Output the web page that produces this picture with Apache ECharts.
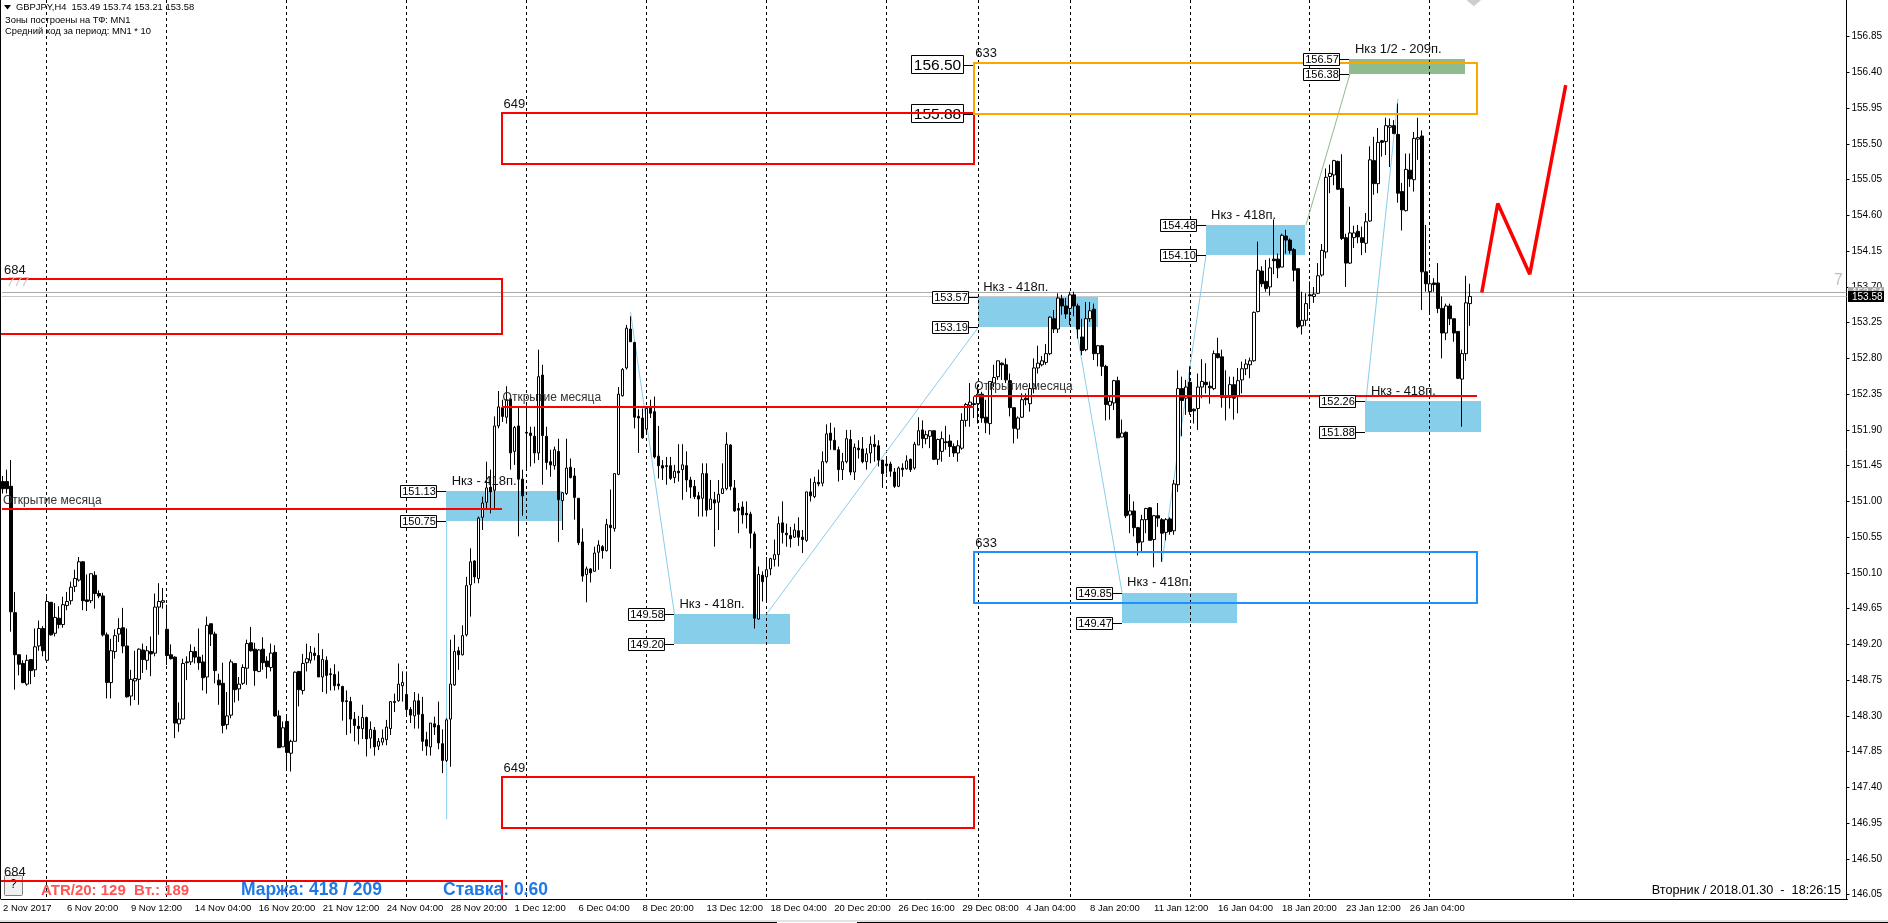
<!DOCTYPE html>
<html>
<head>
<meta charset="utf-8">
<title>GBPJPY,H4</title>
<script src="https://cdn.jsdelivr.net/npm/echarts@6/dist/echarts.min.js"></script>
<style>
html,body{margin:0;padding:0;background:#fff;overflow:hidden;}
#chart{width:1888px;height:923px;}
</style>
</head>
<body>
<div id="chart"></div>
<script>
// candles: [open, close, low, high]
var novCandles = [
[151.25,151.16,151.10,151.32],[151.25,151.16,151.10,151.40],[151.19,149.61,149.36,151.52],[149.60,149.07,148.63,149.86],
[149.07,148.95,148.81,149.07],[148.96,148.72,148.71,149.00],[148.70,149.00,148.68,149.07],[149.01,148.87,148.70,149.01],
[148.88,149.17,148.79,149.40],[149.18,149.40,149.12,149.50],[149.40,149.12,149.05,149.43],[149.00,149.74,148.97,149.83],
[149.73,149.32,149.31,149.73],[149.34,149.54,149.30,149.72],[149.53,149.45,149.40,149.68],[149.45,149.70,149.41,149.80],
[149.69,149.74,149.63,149.86],[149.75,149.92,149.70,149.99],[149.93,150.03,149.86,150.14],[150.01,150.24,149.99,150.30],
[150.24,149.75,149.63,150.25],[149.76,149.74,149.62,150.08],[149.75,150.09,149.72,150.09],[150.07,149.84,149.65,150.12],
[149.84,149.81,149.78,149.88],[149.81,149.32,149.30,149.85],[149.32,148.72,148.52,149.35],[148.72,149.12,148.52,149.27],
[149.11,149.31,149.02,149.39],[149.33,149.40,149.23,149.53],[149.41,149.18,149.09,149.66],[149.18,148.54,148.53,149.40],
[148.55,148.76,148.43,148.88],[148.74,148.77,148.50,149.12],[148.76,149.14,148.44,149.15],[149.13,149.01,148.84,149.21],
[149.00,149.12,148.88,149.18],[149.11,149.08,148.80,149.30],[149.09,149.67,149.05,149.84],[149.67,149.74,149.32,149.97],
[149.73,149.75,149.65,149.91],[149.39,149.06,148.94,149.70],[149.07,149.02,149.01,149.20],[149.04,148.21,148.02,149.05],
[148.20,148.26,148.10,148.47],[148.26,148.96,148.26,149.02],[148.97,148.98,148.75,149.05],[148.98,149.11,148.94,149.20],
[149.11,149.04,148.96,149.17],[149.04,148.97,148.88,149.40],[148.98,148.78,148.62,149.07],[148.79,149.44,148.58,149.55],
[149.46,149.33,149.18,149.46],[149.33,148.87,148.71,149.36],[148.75,148.69,148.44,148.83],[148.71,148.18,148.08,148.97],
[148.19,148.30,148.13,148.60],[148.31,148.98,148.27,149.01],[148.96,148.63,148.47,148.96],[148.64,148.70,148.49,148.79],
[148.71,148.91,148.69,148.95],[148.90,149.21,148.69,149.26],[149.22,149.12,149.11,149.42],[149.14,148.87,148.68,149.22],
[148.86,149.13,148.85,149.14],[149.14,148.97,148.88,149.29],[148.99,148.92,148.77,149.05],[148.91,149.09,148.86,149.21],
[149.10,148.30,148.29,149.19],[148.30,147.90,147.90,148.37],[147.91,148.15,147.91,148.23],[148.23,147.84,147.63,148.30],
[147.83,147.98,147.60,148.00],[147.98,148.85,147.98,148.86],[148.86,148.63,148.42,148.86],[148.62,148.96,148.57,149.08],
[148.97,149.02,148.86,149.21],[149.00,149.10,148.96,149.18],[149.09,149.06,149.00,149.16],[149.06,148.79,148.79,149.34],
[148.79,149.01,148.60,149.14],[149.00,148.81,148.58,149.05],[148.83,148.82,148.62,148.90],[148.82,148.68,148.62,148.95],
[148.70,148.68,148.63,148.86],[148.67,148.48,148.24,148.68],[148.49,148.48,148.06,148.62],[148.48,148.26,148.08,148.54],
[148.26,148.18,147.98,148.35],[148.17,148.14,147.94,148.30],[148.14,148.28,148.01,148.44],[148.28,148.01,147.79,148.29],
[148.02,148.13,147.89,148.23],[148.12,147.91,147.80,148.16],[147.92,147.98,147.87,148.02],[147.97,148.02,147.93,148.13],
[148.00,148.16,147.93,148.25],[148.14,148.48,148.06,148.48],[148.48,148.47,148.35,148.58],[148.49,148.70,148.48,148.96],
[148.68,148.72,148.48,148.86],[148.57,148.38,148.30,148.86],[148.38,148.31,148.21,148.41],[148.30,148.49,148.14,148.60],
[148.49,148.32,148.14,148.58],[148.32,147.98,147.86,148.54],[148.00,147.92,147.80,148.10],[147.91,148.21,147.80,148.21],
[148.20,148.16,148.06,148.29],[148.18,147.96,147.88,148.48],[147.95,147.74,147.58,148.13],[147.74,148.25,147.72,148.27],
[148.26,148.70,147.66,149.26],[148.69,149.11,148.68,149.32],[149.12,149.07,148.88,149.17],[149.07,149.31,149.06,149.44],
[149.32,149.94,149.30,150.05],[149.95,150.24,149.55,150.41],[150.25,150.05,149.97,150.26],[150.03,150.79,149.97,150.81],
[150.80,150.98,150.64,151.06],[150.99,151.17,150.89,151.50],[151.18,151.12,150.85,151.40],[151.14,151.95,150.91,152.07],
[151.95,152.19,151.92,152.39]
];
var decCandles = [
[152.18,152.07,152.00,152.28],[152.06,152.28,151.98,152.45],[152.29,151.61,151.40,152.30],[151.63,151.93,151.46,151.95],
[151.95,151.28,150.56,152.19],[151.28,151.07,150.82,151.40],[151.87,151.86,151.40,152.21],[151.86,151.83,151.44,151.94],
[151.82,151.61,151.48,151.94],[151.61,152.57,151.52,152.91],[152.59,151.83,151.21,152.72],[151.82,151.49,151.40,151.94],
[151.50,151.46,151.31,151.65],[151.45,151.65,151.40,151.69],[151.63,151.02,150.49,151.79],[151.01,151.11,150.64,151.12],
[151.10,151.42,151.08,151.79],[151.43,151.30,151.29,151.54],[151.32,151.05,150.77,151.42],[151.04,150.48,150.45,151.04],
[150.49,150.06,149.99,150.66],[150.08,150.15,149.73,150.18],[150.15,150.10,149.98,150.16],[150.12,150.35,150.12,150.43],
[150.36,150.45,150.14,150.51],[150.43,150.38,150.28,150.45],[150.38,150.71,150.37,150.78],[150.70,150.67,150.15,151.15],
[150.66,151.35,150.62,151.35],[151.34,152.35,151.33,152.44],[152.33,152.66,152.32,152.68],[152.68,153.18,152.66,153.22],
[153.17,153.01,153.01,153.33],[153.00,152.06,151.92,153.01],[152.07,152.05,151.61,152.16],[152.05,151.80,151.79,152.17],
[151.91,152.17,151.86,152.19],[152.18,152.11,152.05,152.28],[152.13,151.56,151.54,152.32],[151.57,151.45,151.29,151.95],
[151.45,151.42,151.27,151.52],[151.45,151.44,151.21,151.56],[151.45,151.29,151.27,151.56],[151.30,151.38,151.23,151.46],
[151.38,151.36,151.25,151.72],[151.40,151.46,151.02,151.72],[151.45,151.27,151.12,151.63],[151.27,151.18,151.04,151.31],
[151.19,151.06,151.03,151.27],[151.07,151.03,150.81,151.12],[151.04,151.35,150.81,151.48],[151.35,150.89,150.81,151.48],
[150.90,151.03,150.89,151.27],[151.02,150.98,150.43,151.12],[150.99,151.09,150.64,151.27],[151.10,151.16,151.10,151.48],
[151.16,151.72,151.14,151.87],[151.71,151.19,151.14,151.72],[151.17,150.88,150.87,151.27],[150.91,150.89,150.60,150.98],
[150.93,150.83,150.72,151.00],[150.85,150.83,150.66,151.00],[150.84,150.60,150.41,150.87],[150.59,149.53,149.40,150.62],
[149.52,150.08,149.51,150.18],[150.07,149.99,149.74,150.12],[150.05,150.14,149.74,150.30],[150.15,150.28,150.07,150.29],
[150.27,150.33,150.18,150.52],[150.33,150.72,150.18,150.81],[150.73,150.61,150.47,151.00],[150.60,150.58,150.43,150.72],
[150.57,150.53,150.42,150.68],[150.55,150.64,150.54,150.72],[150.63,150.55,150.44,150.80],[150.55,150.52,150.35,150.64],
[150.51,151.12,150.49,151.12],[151.12,151.07,151.00,151.29],[151.06,151.24,151.04,151.31],[151.24,151.22,151.19,151.40],
[151.23,151.50,151.19,151.63],[151.50,151.85,151.48,151.97],[151.86,151.77,151.65,151.99],[151.77,151.65,151.65,151.93],
[151.65,151.40,151.25,151.69],[151.40,151.50,151.27,151.61],[151.50,151.79,151.48,151.90],[151.78,151.37,151.33,151.90],
[151.37,151.68,151.27,151.73],[151.67,151.65,151.54,151.77],[151.66,151.50,151.48,151.81],[151.50,151.60,151.40,151.67],
[151.61,151.72,151.48,151.82],[151.72,151.69,151.50,151.84],[151.70,151.52,151.44,151.77],[151.52,151.35,151.17,151.52],
[151.47,151.45,151.35,151.54],[151.47,151.38,151.31,151.50],[151.37,151.19,151.17,151.42],[151.19,151.42,151.18,151.44],
[151.42,151.40,151.31,151.48],[151.41,151.51,151.40,151.58],[151.53,151.40,151.37,151.54],[151.42,151.72,151.40,151.75],
[151.71,151.89,151.71,152.06],[151.90,151.79,151.67,152.02],[151.79,151.84,151.72,151.89],[151.82,151.89,151.67,151.89],
[151.89,151.53,151.52,151.89],[151.53,151.78,151.46,151.79],[151.63,151.79,151.50,151.88],[151.75,151.74,151.65,151.95],
[151.76,151.69,151.56,151.84],[151.69,151.61,151.56,151.73],[151.61,151.70,151.50,151.77],[151.67,152.02,151.65,152.11],
[152.02,152.22,151.94,152.24],[152.21,152.25,151.94,152.49]
];
var janCandles = [
[152.23,152.22,152.05,152.32],[152.23,152.35,151.98,152.47],[152.35,152.05,151.99,152.38],[152.06,151.99,151.86,152.28],
[151.98,152.51,151.84,152.51],[152.49,152.56,152.44,152.72],[152.57,152.77,152.53,152.77],[152.74,152.72,152.53,152.75],
[152.72,152.53,152.49,152.80],[152.52,152.18,152.07,152.61],[152.18,151.92,151.73,152.18],[151.91,152.05,151.79,152.07],
[152.06,152.28,152.05,152.36],[152.30,152.28,152.21,152.36],[152.23,152.42,152.13,152.49],[152.42,152.68,152.36,152.80],
[152.68,152.74,152.61,152.96],[152.72,152.77,152.70,152.83],[152.75,152.86,152.72,152.98],[152.86,153.32,152.84,153.33],
[153.30,153.17,153.12,153.41],[153.17,153.56,153.12,153.62],[153.55,153.46,153.35,153.60],[153.46,153.36,153.30,153.56],
[153.43,153.60,153.22,153.64],[153.60,153.46,153.33,153.64],[153.46,153.17,153.05,153.49],[153.07,152.90,152.84,153.30],
[152.91,153.30,152.89,153.51],[153.30,153.40,153.26,153.51],[153.42,152.86,152.78,153.49],[152.86,152.96,152.70,152.97],
[152.96,152.70,152.58,152.97],[152.70,152.22,152.02,152.72],[152.21,152.26,152.03,152.34],[152.24,152.52,152.15,152.53],
[152.52,151.80,151.80,152.57],[151.81,151.86,151.81,152.03],[151.87,150.82,150.79,151.88],[150.83,150.88,150.60,151.09],
[150.88,150.67,150.56,151.00],[150.67,150.48,150.32,150.68],[150.49,150.77,150.37,150.83],[150.77,150.91,150.60,150.92],
[150.92,150.51,150.51,150.93],[150.52,150.82,150.17,150.83],[150.82,150.79,150.68,150.98],[150.77,150.60,150.24,150.79],
[150.61,150.77,150.51,150.79],[150.78,150.62,150.58,150.80],[150.63,151.22,150.58,151.27],[151.21,152.42,151.12,152.65],
[152.42,152.27,151.82,152.57],[152.30,152.44,152.09,152.53],[152.50,152.13,152.09,152.70],[152.16,152.14,151.98,152.17],
[152.17,152.44,151.90,152.61],[152.44,152.51,152.30,152.79],[152.50,152.47,152.36,152.74],[152.45,152.43,152.23,152.51],
[152.42,152.86,152.40,152.90],[152.86,152.81,152.80,153.06],[152.82,152.31,152.18,152.91],[152.32,152.31,152.02,152.65],
[152.31,152.47,152.17,152.57],[152.47,152.30,152.03,152.57],[152.32,152.52,152.11,152.68],[152.53,152.67,152.36,152.76],
[152.67,152.73,152.59,152.79],[152.72,152.77,152.55,152.81],[152.77,153.38,152.76,153.39],[153.39,153.91,153.38,154.27],
[153.90,153.74,153.70,153.96],[153.77,153.68,153.64,154.04],[153.70,153.94,153.59,154.06],[154.05,154.03,153.86,154.55],
[154.05,153.94,153.81,154.12],[153.95,154.35,153.95,154.37],[154.34,154.29,154.12,154.42],[154.29,154.16,154.12,154.31],
[154.17,153.91,153.77,154.19],[153.93,153.20,153.18,153.93],[153.21,153.28,153.10,153.64],[153.28,153.49,153.21,153.62],
[153.60,153.59,153.45,153.77],[153.58,153.61,153.50,153.70],[153.62,153.84,153.61,154.00],[153.85,154.16,153.83,154.24],
[154.14,155.08,154.06,155.19],[155.09,155.13,154.88,155.24],[155.11,155.29,154.98,155.30],[155.28,154.93,154.92,155.29],
[154.94,154.31,154.29,155.37],[154.32,154.00,153.70,154.37],[154.00,154.38,153.99,154.71],[154.32,154.38,154.19,154.47],
[154.40,154.33,154.25,154.48],[154.32,154.26,154.10,154.46],[154.25,154.52,154.13,154.63],[154.53,155.30,154.52,155.47],
[155.29,155.00,154.86,155.59],[155.00,155.52,154.88,155.70],[155.54,155.52,155.34,155.55],[155.53,155.73,155.36,155.83],
[155.71,155.73,155.21,155.82],[155.73,155.63,155.63,155.80],[155.62,154.88,154.76,156.01],[154.90,154.67,154.41,155.01],
[154.66,155.18,154.65,155.38],[155.17,155.06,154.96,155.38],[155.05,155.57,154.90,155.65],[155.56,155.58,155.30,155.83],
[155.60,153.89,153.41,155.67],[153.89,153.74,153.64,154.48],[153.64,153.74,153.37,153.85],[153.75,153.73,153.64,153.81],
[153.75,153.43,153.37,154.00],[153.43,153.12,152.80,153.58],[153.12,153.46,153.03,153.49],[153.46,153.30,153.22,153.49],
[153.30,153.12,153.01,153.30],[153.14,152.55,152.54,153.14],[152.54,152.86,151.94,152.91],[152.86,153.50,152.77,153.84],
[153.49,153.58,153.21,153.74]
];
var tickLabels = ['2 Nov 2017','6 Nov 20:00','9 Nov 12:00','14 Nov 04:00','16 Nov 20:00','21 Nov 12:00','24 Nov 04:00','28 Nov 20:00',
	'1 Dec 12:00','6 Dec 04:00','8 Dec 20:00','13 Dec 12:00','18 Dec 04:00','20 Dec 20:00','26 Dec 16:00','29 Dec 08:00',
	'4 Jan 04:00','8 Jan 20:00','11 Jan 12:00','16 Jan 04:00','18 Jan 20:00','23 Jan 12:00','26 Jan 04:00'];
var priceTicks = [156.85,156.40,155.95,155.50,155.05,154.60,154.15,153.70,153.25,152.80,152.35,151.90,151.45,
	151.00,150.55,150.10,149.65,149.20,148.75,148.30,147.85,147.40,146.95,146.50,146.05];
// vertical period separators, as bar numbers
var separators = [11,41,71,101,131,161,191,221,244,267,297,327,357,393];
// from, to, top, bottom, caption
var redFrames = [[-1,125,153.80,153.11,'684'],[125,243,155.89,155.25,'649'],[125,243,147.53,146.89,'649'],[-1,125,146.22,145.53,'684']];
var orangeFrames = [[243,369,156.52,155.88,'633']];
var blueFrames = [[243,369,150.36,149.72,'633']];
var orangeLevels = [156.50,155.88];
// from, to, top, bottom, caption
var blueZones = [
	[111,140,151.13,150.75,'Нкз - 418п.'],
	[168,197,149.58,149.20,'Нкз - 418п.'],
	[244,274,153.57,153.19,'Нкз - 418п.'],
	[280,309,149.85,149.47,'Нкз - 418п.'],
	[301,326,154.48,154.10,'Нкз - 418п.'],
	[341,370,152.26,151.88,'Нкз - 418п.']
];
var greenZones = [[337,366,156.57,156.38,'Нкз 1/2 - 209п.']];
// month open: from, to, price
var monthOpens = [[0,125,150.90],[125,243,152.19],[243,369,152.33]];
// bar, price, bar, price
var blueLinks = [[111,150.75,111,147.00],[157,153.38,168,149.58],[191,149.58,244,153.19],[267,153.62,280,149.85],[290,150.24,301,154.10],[349,156.07,341,152.26]];
var greenLinks = [[326,154.48,337,156.38]];
var forecastPath = [[370,153.63],[374,154.75],[382,153.86],[391,156.24]];
var askPrice = 153.64;
var bidPrice = 153.58;
var topMarker = [[368,157.31]];

var FONT = '"Liberation Sans", Arial, sans-serif';
var barCount = 462;
var categories = [];
for (var i = 0; i < barCount; i++) {
	categories.push(i % 16 == 0 && tickLabels[i / 16] ? tickLabels[i / 16] : '');
}
var candles = novCandles.concat(decCandles, janCandles);

function isLabelled(index) {
	return index % 16 == 0 && index <= 352;
}

// one custom series per overlay type, rows are read through api.coord
function layer(rows, z, draw) {
	return {
		type: 'custom',
		z: z,
		silent: true,
		clip: true,
		animation: false,
		data: rows.map(function (r, i) { return [i, 150]; }),
		renderItem: function (params, api) {
			return draw(rows[params.dataIndex], api, params.coordSys);
		}
	};
}

function textEl(x, y, text, size, color, align, bold) {
	return {
		type: 'text',
		style: {
			x: x, y: y, text: text, fill: color || '#000',
			font: (bold ? 'bold ' : '') + size + 'px ' + FONT,
			align: align || 'left', verticalAlign: 'middle'
		}
	};
}

function zoneRect(color) {
	return function (r, api) {
		var a = api.coord([r[0], r[2]]), b = api.coord([r[1], r[3]]);
		var x = Math.floor(a[0]), y = Math.round(a[1]);
		return {type: 'rect', shape: {x: x, y: y, width: Math.floor(b[0]) - x, height: Math.round(b[1]) - y}, style: {fill: color}};
	};
}

function frameRect(color) {
	return function (r, api) {
		var a = api.coord([r[0], r[2]]), b = api.coord([r[1], r[3]]);
		var x = Math.floor(a[0]), y = Math.round(a[1]);
		return {type: 'rect', shape: {x: x, y: y, width: Math.floor(b[0]) - x, height: Math.round(b[1]) - y},
			style: {fill: 'none', stroke: color, lineWidth: 2}};
	};
}

function frameCaption(r, api) {
	var a = api.coord([r[0] < 0 ? 0 : r[0], r[2]]);
	return textEl(a[0] + 1, a[1] - 9, r[4], 13, '#111');
}

function priceBox(x, y, text) {
	var bx = Math.floor(x) - 46, by = Math.round(y) - 6;
	return [
		{type: 'line', shape: {x1: bx + 37, y1: by + 6.5, x2: bx + 46, y2: by + 6.5}, style: {stroke: '#000', lineWidth: 1}},
		{type: 'rect', shape: {x: bx + 0.5, y: by + 0.5, width: 36, height: 12}, style: {fill: '#fff', stroke: '#000', lineWidth: 1}},
		textEl(bx + 19, by + 7, text, 11, '#000', 'center')
	];
}

function zoneLabels(r, api) {
	var a = api.coord([r[0], r[2]]), b = api.coord([r[0], r[3]]);
	var kids = [textEl(a[0] + 5, a[1] - 10, r[4], 13, '#111')];
	kids = kids.concat(priceBox(a[0], a[1], r[2].toFixed(2)), priceBox(b[0], b[1], r[3].toFixed(2)));
	return {type: 'group', children: kids};
}

function segment(color, width, dash) {
	return function (r, api) {
		var a = api.coord([r[0], r[1]]), b = api.coord([r[2], r[3]]);
		return {type: 'line', shape: {x1: a[0], y1: a[1], x2: b[0], y2: b[1]},
			style: {stroke: color, lineWidth: width, lineDash: dash || null}};
	};
}

function priceLine(color) {
	return function (p, api, sys) {
		var y = Math.round(api.coord([0, p])[1]) + 0.5;
		return {type: 'line', shape: {x1: sys.x + 1, y1: y, x2: sys.x + sys.width - 1, y2: y}, style: {stroke: color, lineWidth: 1}};
	};
}

function separator(bar, api, sys) {
	var x = Math.round(api.coord([bar, 150])[0] - 0.5) + 0.5;
	return {type: 'line', shape: {x1: x, y1: sys.y, x2: x, y2: sys.y + sys.height},
		style: {stroke: '#000', lineWidth: 1, lineDash: [3, 3]}};
}

function monthLine(r, api) {
	var a = api.coord([r[0], r[2]]), b = api.coord([r[1], r[2]]);
	var y = Math.round(a[1]);
	return {type: 'line', shape: {x1: Math.floor(a[0]), y1: y, x2: Math.floor(b[0]), y2: y}, style: {stroke: '#FF0000', lineWidth: 2}};
}

function monthCaption(r, api) {
	var a = api.coord([r[0], r[2]]);
	return textEl(a[0], a[1] - 9, 'Открытие месяца', 12, '#333');
}

function priceTag(fill, color) {
	return function (p, api, sys) {
		var y = Math.round(api.coord([0, p])[1]);
		return {type: 'group', children: [
			{type: 'rect', shape: {x: 1848, y: y - 5, width: 36, height: 11}, style: {fill: fill}},
			textEl(1852, y + 1, p.toFixed(2), 10, color)
		]};
	};
}

function levelBox(p, api) {
	var a = api.coord([243, p]);
	var y = Math.round(a[1]);
	return {type: 'group', children: [
		{type: 'line', shape: {x1: 963, y1: y + 0.5, x2: Math.floor(a[0]), y2: y + 0.5}, style: {stroke: '#000', lineWidth: 1}},
		{type: 'rect', shape: {x: 911.5, y: y - 9.5, width: 52, height: 18}, style: {fill: '#fff', stroke: '#000', lineWidth: 1}},
		textEl(937.5, y + 0.5, p.toFixed(2), 15.5, '#000', 'center')
	]};
}

var overlayCaptions = redFrames.concat(orangeFrames, blueFrames);
var tagLayerAsk = layer([askPrice], 20, priceTag('#A9A9A9', '#fff'));
var tagLayerBid = layer([bidPrice], 21, priceTag('#000', '#fff'));
tagLayerAsk.clip = false;
tagLayerBid.clip = false;

var option = {
	backgroundColor: '#fff',
	animation: false,
	textStyle: {fontFamily: FONT},
	grid: {left: -0.5, top: 0, width: 1848, height: 899, containLabel: false},
	xAxis: {
		type: 'category',
		data: categories,
		boundaryGap: true,
		axisLine: {onZero: false, lineStyle: {color: '#000', width: 1}},
		axisTick: {length: 3, alignWithLabel: true, interval: isLabelled, lineStyle: {color: '#000'}},
		axisLabel: {interval: isLabelled, align: 'left', margin: 4, color: '#000', fontSize: 9.5, fontFamily: FONT, hideOverlap: false},
		splitLine: {show: false}
	},
	yAxis: {
		type: 'value',
		position: 'right',
		offset: -1,
		min: 145.995,
		max: 157.312,
		axisLine: {show: true, onZero: false, lineStyle: {color: '#000', width: 1}},
		axisTick: {show: true, length: 3, customValues: priceTicks, lineStyle: {color: '#000'}},
		axisLabel: {
			margin: 5, color: '#000', fontSize: 10, fontFamily: FONT, customValues: priceTicks,
			formatter: function (v) { return v.toFixed(2); }
		},
		splitLine: {show: false}
	},
	series: [
		layer(blueZones, 1, zoneRect('#87CEEB')),
		layer(greenZones, 1, zoneRect('#8FBC8F')),
		layer([askPrice], 2, priceLine('#A9A9A9')),
		layer([bidPrice], 2, priceLine('#C8C8C8')),
		layer(separators, 2, separator),
		layer(blueLinks, 2, segment('#87CEEB', 1)),
		layer(greenLinks, 2, segment('#8FBC8F', 1)),
		layer(orangeLevels, 3, levelBox),
		{
			type: 'candlestick',
			z: 3,
			silent: true,
			animation: false,
			barWidth: 3,
			data: candles,
			itemStyle: {color: '#fff', color0: '#000', borderColor: '#000', borderColor0: '#000', borderWidth: 1}
		},
		layer(redFrames, 4, frameRect('#FF0000')),
		layer(orangeFrames, 4, frameRect('#FFA500')),
		layer(blueFrames, 4, frameRect('#1E90FF')),
		layer(monthOpens, 4, monthLine),
		{
			type: 'line',
			z: 4,
			silent: true,
			animation: false,
			showSymbol: false,
			data: forecastPath,
			lineStyle: {color: '#FF0000', width: 3.5}
		},
		{
			type: 'scatter',
			z: 4,
			silent: true,
			symbol: 'diamond',
			symbolSize: [14, 12],
			itemStyle: {color: '#C0C0C0'},
			data: topMarker
		},
		layer(overlayCaptions, 5, frameCaption),
		layer(monthOpens, 5, monthCaption),
		layer(blueZones, 5, zoneLabels),
		layer(greenZones, 5, zoneLabels),
		tagLayerAsk,
		tagLayerBid
	],
	graphic: [
		{type: 'rect', left: 0, top: 0, shape: {width: 1, height: 899}, style: {fill: '#000'}, z: 6},
		{type: 'rect', left: 0, top: 920, shape: {width: 1888, height: 2}, style: {fill: '#E4E4E4'}, z: 6},
		{type: 'rect', left: 0, top: 922, shape: {width: 777, height: 1}, style: {fill: '#000'}, z: 6},
		{type: 'rect', left: 857, top: 922, shape: {width: 1031, height: 1}, style: {fill: '#000'}, z: 6},
		{type: 'polygon', shape: {points: [[4, 5], [11, 5], [7.5, 9.5]]}, style: {fill: '#000'}, z: 6},
		{type: 'text', left: 16, top: 3, style: {text: 'GBPJPY,H4  153.49 153.74 153.21 153.58', font: '9.4px ' + FONT, fill: '#000'}, z: 6},
		{type: 'text', left: 5, top: 16, style: {text: 'Зоны построены на ТФ: MN1', font: '9.4px ' + FONT, fill: '#000'}, z: 6},
		{type: 'text', left: 5, top: 27, style: {text: 'Средний ход за период: MN1 * 10', font: '9.4px ' + FONT, fill: '#000'}, z: 6},
		{type: 'text', left: 7, top: 276, style: {text: '777', font: 'italic 13px ' + FONT, fill: '#C8C8C8'}, z: 6},
		{type: 'text', left: 1834, top: 273, style: {text: '7', font: '16px ' + FONT, fill: '#C0C0C0'}, z: 6},
		{type: 'rect', left: 4, top: 875, shape: {width: 18, height: 20, r: 1}, style: {fill: '#F0F0F0', stroke: '#808080', lineWidth: 1}, z: 1},
		{type: 'text', left: 10, top: 879, style: {text: '?', font: '12px ' + FONT, fill: '#000'}, z: 1},
		{type: 'text', left: 41, top: 883, style: {text: 'ATR/20: 129  Вт.: 189', font: 'bold 15px ' + FONT, fill: '#FF5555'}, z: 6},
		{type: 'text', left: 241, top: 881, style: {text: 'Маржа: 418 / 209', font: 'bold 17.5px ' + FONT, fill: '#1E78E6'}, z: 6},
		{type: 'text', left: 443, top: 881, style: {text: 'Ставка: 0.60', font: 'bold 17.5px ' + FONT, fill: '#1E78E6'}, z: 6},
		{type: 'text', right: 47, top: 884, style: {text: 'Вторник / 2018.01.30  -  18:26:15', font: '12.7px ' + FONT, fill: '#000'}, z: 6}
	]
};

var myChart = echarts.init(document.getElementById('chart'));
myChart.setOption(option);
</script>
</body>
</html>
